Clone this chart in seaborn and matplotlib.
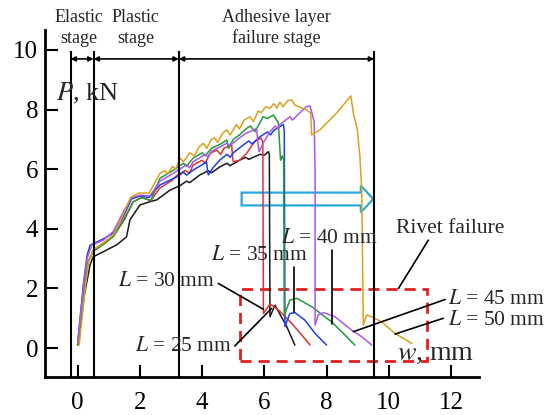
import numpy as np
import pandas as pd
import seaborn as sns
import matplotlib
matplotlib.use("Agg")
import matplotlib.pyplot as plt
from matplotlib.patches import Rectangle

# ---- curves (w in mm, P in kN)
w_25 = [0.0, 0.22, 0.4, 0.5, 0.82, 1.25, 1.57, 1.68, 2.0, 2.32, 2.54, 2.97, 3.29, 3.5, 3.6, 3.93, 4.2, 4.3, 4.57,
        4.8, 4.9, 5.22, 5.4, 5.5, 5.86, 6.0, 6.13, 6.16, 6.18, 6.34, 6.72, 6.98]
p_25 = [0.1, 1.8, 2.8, 3.06, 3.23, 3.46, 3.73, 4.3, 4.8, 4.91, 4.97, 5.3, 5.45, 5.6, 5.55, 5.81, 5.95, 5.88, 6.08,
        6.2, 6.12, 6.31, 6.4, 6.33, 6.5, 6.47, 6.59, 6.5, 1.05, 1.44, 0.72, 0.1]

w_30 = [0.0, 0.2, 0.33, 0.5, 0.85, 1.15, 1.5, 1.78, 2.05, 2.35, 2.64, 3.0, 3.2, 3.45, 3.6, 3.71, 4.0, 4.1, 4.25,
        4.47, 4.6, 4.7, 4.95, 4.98, 5.0, 5.2, 5.43, 5.6, 5.75, 5.9, 5.95, 5.97, 6.18, 6.45, 6.88, 7.2, 7.47]
p_30 = [0.1, 1.9, 2.9, 3.25, 3.5, 3.75, 4.35, 4.9, 5.05, 4.95, 5.37, 5.6, 5.8, 5.95, 5.88, 6.14, 6.3, 6.2, 6.53,
        6.64, 6.5, 6.7, 6.81, 6.4, 6.25, 6.3, 6.53, 6.8, 6.98, 7.04, 6.9, 1.16, 1.48, 1.28, 0.83, 0.44, 0.1]

w_35 = [0.0, 0.18, 0.3, 0.4, 0.8, 1.14, 1.46, 1.73, 2.0, 2.3, 2.64, 3.2, 3.4, 3.5, 3.71, 4.0, 4.14, 4.18, 4.2,
        4.35, 4.57, 4.8, 4.9, 5.0, 5.32, 5.5, 5.6, 5.86, 6.1, 6.2, 6.3, 6.61, 6.64, 6.66, 6.82, 6.98, 7.3, 7.63,
        8.0]
p_35 = [0.15, 2.1, 3.1, 3.45, 3.65, 3.85, 4.4, 5.0, 5.1, 5.05, 5.47, 5.75, 5.9, 5.8, 5.97, 6.15, 6.25, 5.9, 5.81,
        6.05, 6.31, 6.5, 6.4, 6.55, 6.81, 6.95, 6.85, 7.09, 7.25, 7.15, 7.3, 7.5, 7.3, 0.72, 1.16, 1.19, 0.94,
        0.49, 0.1]

w_40 = [0.0, 0.2, 0.33, 0.5, 0.85, 1.15, 1.5, 1.78, 2.05, 2.35, 2.64, 3.2, 3.4, 3.5, 3.71, 4.0, 4.1, 4.3, 4.6,
        4.79, 4.85, 5.0, 5.2, 5.43, 5.55, 5.7, 5.96, 6.1, 6.29, 6.45, 6.52, 6.58, 6.62, 6.64, 6.82, 7.04, 7.52,
        8.16, 8.59, 8.91]
p_40 = [0.1, 1.8, 2.85, 3.25, 3.5, 3.75, 4.3, 4.9, 5.05, 4.95, 5.69, 6.05, 6.2, 6.1, 6.37, 6.55, 6.45, 6.7, 6.85,
        6.98, 6.7, 7.0, 7.15, 7.37, 7.45, 7.26, 7.76, 7.7, 7.82, 7.55, 6.3, 6.45, 6.3, 1.1, 1.61, 1.67, 1.39,
        0.88, 0.44, 0.1]

w_45 = [0.0, 0.18, 0.3, 0.45, 0.82, 1.14, 1.46, 1.73, 2.0, 2.32, 2.64, 3.2, 3.5, 3.6, 3.71, 4.1, 4.2, 4.3, 4.79,
        4.9, 5.2, 5.4, 5.54, 5.75, 5.8, 5.83, 6.0, 6.18, 6.35, 6.45, 6.5, 6.82, 6.9, 7.1, 7.2, 7.36, 7.47, 7.6,
        7.63, 7.63, 7.73, 7.9, 8.27, 8.81, 9.13, 9.45]
p_45 = [0.15, 2.0, 3.0, 3.45, 3.62, 3.9, 4.55, 5.05, 5.13, 5.1, 5.59, 5.95, 6.15, 6.05, 6.25, 6.5, 6.4, 6.6, 6.87,
        6.8, 7.05, 7.2, 7.26, 7.37, 6.8, 6.59, 6.95, 7.26, 7.45, 7.35, 7.5, 7.76, 7.65, 7.85, 7.95, 8.1, 8.12,
        7.6, 6.0, 0.77, 1.11, 1.19, 1.05, 0.6, 0.38, 0.1]

w_50 = [0.05, 0.22, 0.35, 0.5, 0.85, 1.15, 1.45, 1.7, 1.95, 2.3, 2.64, 2.8, 2.9, 3.05, 3.15, 3.29, 3.4, 3.6, 3.75,
        3.9, 4.04, 4.15, 4.3, 4.4, 4.5, 4.65, 4.79, 4.9, 5.1, 5.2, 5.35, 5.54, 5.65, 5.8, 5.9, 6.05, 6.18, 6.3,
        6.4, 6.5, 6.6, 6.75, 6.88, 6.98, 7.36, 7.49, 7.52, 7.79, 8.32, 8.78, 8.86, 8.99, 9.07, 9.13, 9.18, 9.29,
        9.45, 9.77, 10.2, 10.74]
p_50 = [0.1, 1.8, 2.9, 3.3, 3.55, 3.8, 4.45, 5.05, 5.2, 5.2, 5.86, 5.95, 5.85, 6.1, 6.0, 6.37, 6.25, 6.55, 6.45,
        6.75, 6.87, 6.7, 7.0, 7.05, 6.9, 7.2, 7.32, 7.15, 7.5, 7.35, 7.65, 7.76, 7.6, 7.95, 7.9, 8.1, 8.04, 8.2,
        8.05, 8.25, 8.1, 8.3, 8.32, 8.15, 7.99, 7.88, 7.15, 7.32, 7.88, 8.46, 7.88, 7.32, 6.42, 5.3, 0.77, 1.11,
        1.05, 0.88, 0.49, 0.16]

lengths = ["25", "30", "35", "40", "45", "50"]
colors = ["#1a1a1a", "#e03232", "#1f3fe0", "#23993a", "#a858e8", "#d9a21c"]

stage_bounds = [-0.23, 0.51, 3.25, 9.53]
stage_names = ["Elastic\nstage", "Plastic\nstage", "Adhesive layer\nfailure stage"]
stage_text_x = [0.05, 1.87, 6.4]

frames = []
for lab, w, p in zip(lengths, [w_25, w_30, w_35, w_40, w_45, w_50], [p_25, p_30, p_35, p_40, p_45, p_50]):
    frames.append(pd.DataFrame({"w": w, "P": p, "L": lab}))
df = pd.concat(frames, ignore_index=True)

sns.set_theme(style="ticks")
plt.rcParams["font.family"] = ["Liberation Serif", "DejaVu Serif"]
plt.rcParams["mathtext.fontset"] = "stix"

fig = plt.figure(figsize=(5.46, 4.15), dpi=100)
ax = fig.add_axes([0.0824, 0.0923, 0.795, 0.8354])

sns.lineplot(data=df, x="w", y="P", hue="L", palette=colors, sort=False, estimator=None,
             legend=False, linewidth=1.1, ax=ax)

ax.set_xlim(-1.05, 12.9)
ax.set_ylim(-0.96, 10.67)
ax.set_xticks(range(0, 13, 2))
ax.set_yticks(range(0, 11, 2))
ax.set_xlabel("")
ax.set_ylabel("")
sns.despine(ax=ax)
for s in ["left", "bottom"]:
    ax.spines[s].set_linewidth(2.0)
    ax.spines[s].set_color("black")
ax.tick_params(axis="both", direction="in", length=9, width=1.5, labelsize=18, colors="black")
ax.tick_params(axis="x", pad=11)
ax.tick_params(axis="y", pad=5)

# stage boundaries + arrows
ax.vlines(stage_bounds, -0.96, 9.95, colors="black", linewidth=1.5, clip_on=False)
for a, b in zip(stage_bounds[:-1], stage_bounds[1:]):
    ax.annotate("", xy=(b, 9.7), xytext=(a, 9.7),
                arrowprops=dict(arrowstyle="<|-|>", color="black", lw=1.2, mutation_scale=7,
                                shrinkA=0, shrinkB=0), annotation_clip=False)
for tx, name in zip(stage_text_x, stage_names):
    ax.text(tx, 10.74, name, ha="center", va="center", fontsize=13, linespacing=1.25, clip_on=False)

# red box and blue arrow
ax.add_patch(Rectangle((5.22, -0.43), 11.22 - 5.22, 1.97 + 0.43, fill=False, ec="#e02020",
                       lw=2.0, ls=(0, (4, 2.5)), zorder=1))
ax.arrow(5.27, 5.0, 9.5 - 5.27, 0, width=0.43, head_width=0.9, head_length=0.4,
         length_includes_head=True, fc="white", ec="#2aa8dc", lw=1.6, zorder=1)

ax.text(-0.7, 8.32, "$P$, kN", fontsize=19, va="baseline", ha="left")
ax.text(10.25, -0.4, "$w$, mm", fontsize=20, va="baseline", ha="left", clip_on=False)

# labels with leaders
ann = dict(fontsize=15.5, va="center")
line = dict(color="black", lw=1.2, clip_on=False)
ax.text(4.41, 2.22, "$L$ = 30 mm", ha="right", **ann)
ax.plot([4.52, 5.97], [2.17, 1.30], **line)
ax.text(4.95, 0.04, "$L$ = 25 mm", ha="right", **ann)
ax.plot([5.05, 6.23], [0.07, 1.33], **line)
ax.text(5.83, 3.09, "$L$ = 35 mm", ha="center", **ann)
ax.plot([6.95, 6.95], [2.73, 1.21], **line)
ax.text(8.08, 3.68, "$L$ = 40 mm", ha="center", **ann)
ax.plot([8.18, 8.18], [3.29, 0.81], **line)
ax.text(11.96, 4.02, "Rivet failure", ha="center", clip_on=False, **ann)
ax.plot([11.27, 10.31], [3.62, 2.0], **line)
ax.text(11.91, 1.63, "$L$ = 45 mm", ha="left", clip_on=False, **ann)
ax.plot([11.81, 8.86], [1.63, 0.55], **line)
ax.text(11.91, 0.92, "$L$ = 50 mm", ha="left", clip_on=False, **ann)
ax.plot([11.75, 10.2], [1.0, 0.47], **line)

fig.savefig("out.png", dpi=100)
